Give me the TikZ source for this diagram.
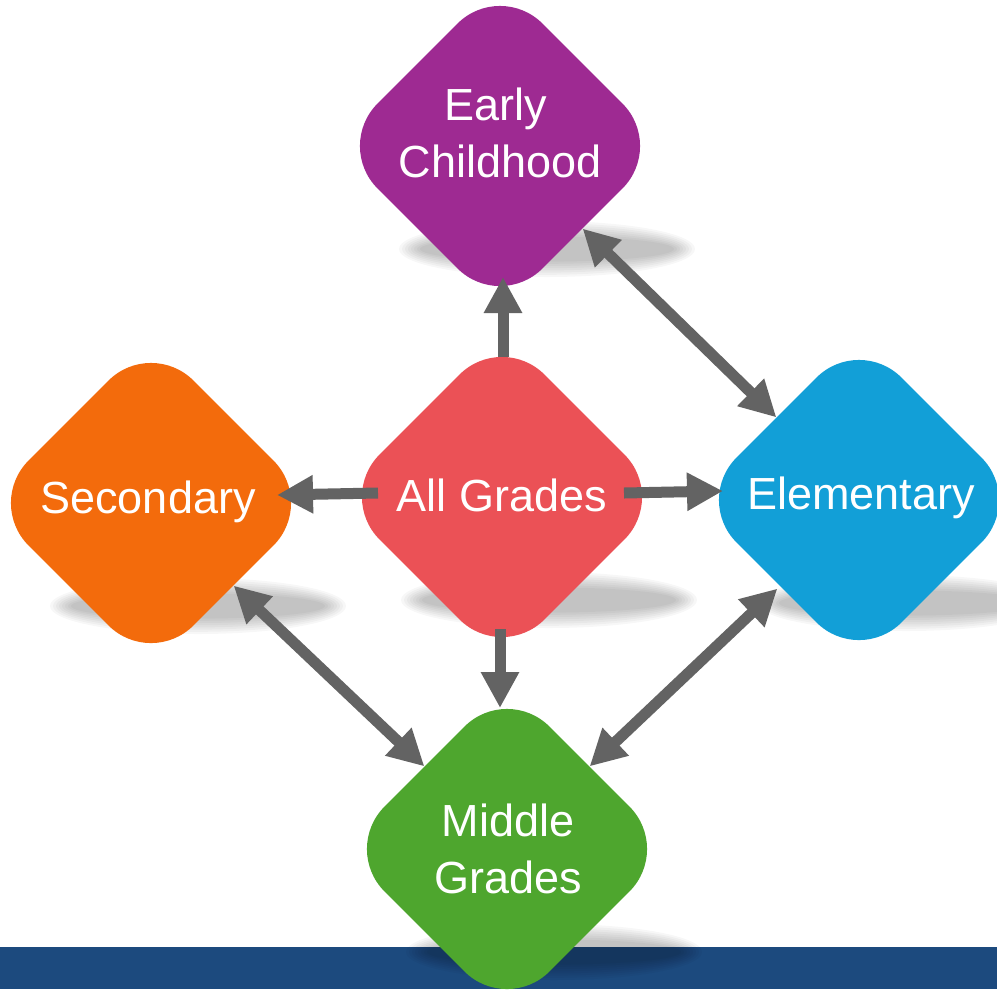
\documentclass[tikz,border=0pt]{standalone}
\usepackage{fontspec}
\setmainfont{Liberation Sans}
\usetikzlibrary{shapes.geometric,arrows.meta,calc}
\definecolor{cPurple}{HTML}{9E2A92}
\definecolor{cRed}{HTML}{EB5156}
\definecolor{cBlue}{HTML}{129FD7}
\definecolor{cOrange}{HTML}{F36B0C}
\definecolor{cGreen}{HTML}{4EA62E}
\definecolor{cArrow}{HTML}{636363}
\definecolor{cBand}{HTML}{1C4A7E}
\tikzset{
  dia/.style={diamond, aspect=1, minimum width=330pt, minimum height=330pt, inner sep=0pt, rounded corners=60pt, draw=none},
  lbl/.style={text=white, font=\fontsize{45}{57}\selectfont, inner sep=0pt, anchor=base},
  conn/.style={draw=cArrow, line width=11pt, -{Triangle[length=36pt,width=36pt]}},
  dconn/.style={draw=cArrow, line width=11pt, {Triangle[length=36pt,width=36pt]}-{Triangle[length=36pt,width=36pt]}},
}
\newcommand{\softshadow}[1]{%
  \foreach \i in {0,...,7}{%
    \fill[black, opacity=0.03] ($(#1.center)+(47,103)$) ellipse[x radius={148-3*\i}, y radius={28-2.2*\i}];
  }%
}
\begin{document}
\begin{tikzpicture}[x=1pt,y=-1pt]
\useasboundingbox (0,0) rectangle (997,989);
\fill[white] (0,0) rectangle (997,989);
\fill[cBand] (0,947) rectangle (997,989);
% diamond positions (named, drawn later)
\path
  (500,146) coordinate (ecpos)
  (502,497) coordinate (agpos)
  (859,500) coordinate (elpos)
  (151,503) coordinate (secpos)
  (507,849) coordinate (mgpos);
% shadows
\softshadow{ecpos}
\softshadow{agpos}
\softshadow{elpos}
\softshadow{secpos}
\softshadow{mgpos}
% diamonds
\node[dia, fill=cPurple] (ec) at (ecpos) {};
\node[dia, fill=cRed] (ag) at (agpos) {};
\node[dia, fill=cBlue] (el) at (elpos) {};
\node[dia, fill=cOrange] (sec) at (secpos) {};
\node[dia, fill=cGreen] (mg) at (mgpos) {};
% connectors
\draw[conn] ($(ag.center)+(1,-140)$) -- ($(ec.center)+(3,131)$);
\draw[conn] ($(ag.center)+(-2,132)$) -- ($(mg.center)+(-7,-141)$);
\draw[conn] ($(ag.center)+(122,-4)$) -- ($(el.center)+(-136,-9)$);
\draw[conn] ($(ag.center)+(-124,-4)$) -- ($(sec.center)+(126,-8)$);
\draw[dconn] (ec.south east) -- (el.north west);
\draw[dconn] (sec.south east) -- (mg.north west);
\draw[dconn] ($(el.south west)+(1,6)$) -- (mg.north east);
% labels
\node[lbl] (ect1) at (496,120) {Early};
\node[lbl] (ect2) at (500,177) {Childhood};
\node[lbl] (agt) at (502,511) {All Grades};
\node[lbl] (elt) at (861,509) {Elementary};
\node[lbl] (sect) at (148,513) {Secondary};
\node[lbl] (mgt1) at (508,836) {Middle};
\node[lbl] (mgt2) at (508,893) {Grades};
\end{tikzpicture}
\end{document}
